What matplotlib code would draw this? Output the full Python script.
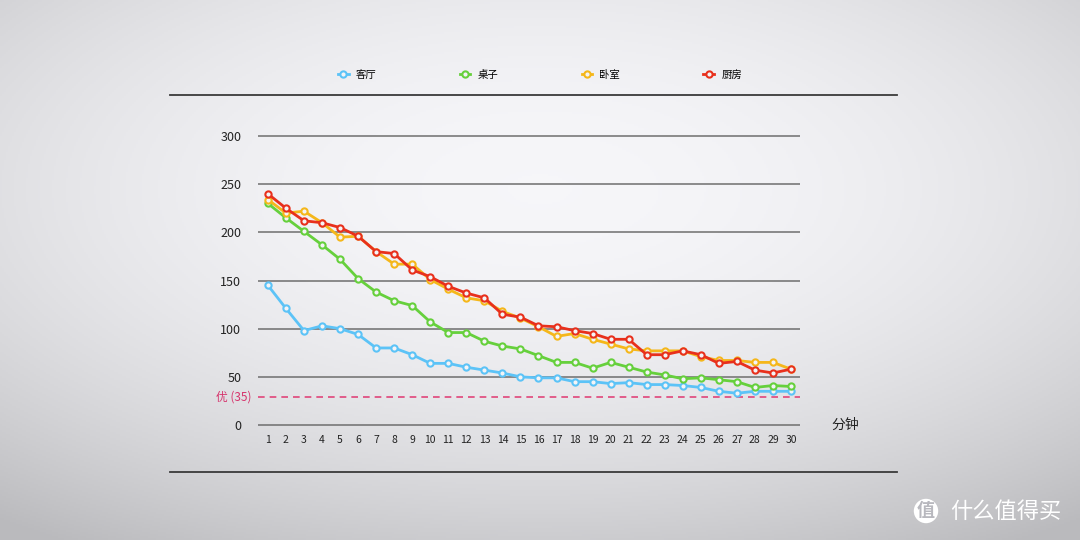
import numpy as np
import matplotlib
matplotlib.use('Agg')
from matplotlib import pyplot as plt
from matplotlib.lines import Line2D

plt.rcParams['font.family'] = ['Noto Sans CJK SC', 'DejaVu Sans']

minutes = list(range(1, 31))
series_names = ['客厅', '桌子', '卧室', '厨房']
living_room = [145, 121, 98, 103, 100, 94, 80, 80, 73, 64, 64, 60, 57, 54, 50, 49,
               49, 45, 45, 43, 44, 42, 42, 41, 39, 35, 33, 35, 35, 35]
desk = [230, 215, 201, 187, 172, 152, 138, 129, 124, 107, 96, 96, 87, 82, 79, 72,
        65, 65, 59, 65, 60, 55, 52, 48, 49, 47, 45, 39, 41, 40]
bedroom = [234, 220, 222, 210, 195, 196, 180, 167, 167, 151, 141, 132, 129, 118, 111, 102,
           92, 95, 89, 84, 79, 77, 77, 77, 71, 67, 67, 65, 65, 58]
kitchen = [240, 225, 212, 210, 205, 196, 180, 178, 161, 154, 144, 137, 132, 115, 112, 103,
           102, 98, 95, 89, 89, 73, 73, 77, 73, 64, 66, 57, 54, 58]
colors = ['#5cc3f7', '#66d03c', '#f5b71a', '#e8301c']
good_level = 29  # dashed reference line as drawn
good_label = '优 (35)'
y_ticks = [0, 50, 100, 150, 200, 250, 300]

fig = plt.figure(figsize=(10.8, 5.4), dpi=100)

# background gradient (light centre, greyer corners)
bg = fig.add_axes([0, 0, 1, 1])
yy, xx = np.mgrid[-1:1:270j, -1:1:540j]
r = np.clip(np.sqrt((xx * 0.85) ** 2 + ((yy + 0.3) * 0.9) ** 2), 0, 1.4)
level = 0.965 - 0.12 * r ** 2
img = np.dstack([level, level, level + 0.012])
bg.imshow(np.clip(img, 0, 1), aspect='auto', extent=[0, 1, 0, 1])
bg.set_axis_off()

ax = fig.add_axes([258 / 1080, 0.204, (800 - 258) / 1080, 0.553])
ax.set_facecolor('none')
ax.set_xlim(0.45, 30.5)
ax.set_ylim(-5, 305)
for s in ax.spines.values():
    s.set_visible(False)
for t in y_ticks:
    ax.axhline(t, color='#6e6e6e', lw=1.1, zorder=1)
ax.axhline(good_level, color='#e0457a', lw=1.2, ls=(0, (4, 3)), zorder=1)
ax.text(-0.012, good_level, good_label, transform=ax.get_yaxis_transform(),
        ha='right', va='center', fontsize=8.5, color='#d6336c')

for name, vals, c in zip(series_names, [living_room, desk, bedroom, kitchen], colors):
    ax.plot(minutes, vals, color=c, lw=2, marker='o', ms=4.5, mfc='#f4f4f6',
            mec=c, mew=1.5, label=name, zorder=3)

ax.set_xticks(minutes)
ax.set_yticks(y_ticks)
ax.tick_params(axis='both', length=0, colors='#222222')
ax.tick_params(axis='x', labelsize=7.5, pad=4)
ax.tick_params(axis='y', labelsize=9, pad=12)
fig.text(845 / 1080, 1 - 425 / 540, '分钟', ha='center', va='center', fontsize=10, color='#222222')

leg = fig.legend(loc='center', bbox_to_anchor=(540 / 1080, 1 - 75 / 540), ncol=4,
                 frameon=False, fontsize=7.5, handlelength=1.0, columnspacing=8.0,
                 handletextpad=0.7)

fig.add_artist(Line2D([170 / 1080, 897 / 1080], [1 - 95 / 540] * 2, color='#3a3a3a', lw=1.3))
fig.add_artist(Line2D([170 / 1080, 897 / 1080], [1 - 472 / 540] * 2, color='#3a3a3a', lw=1.3))

# watermark
fig.text(926 / 1080, 1 - 511 / 540, '值', ha='center', va='center', fontsize=13,
         color='#b8b8be', fontweight='bold',
         bbox=dict(boxstyle='circle,pad=0.15', fc='white', ec='none'))
fig.text(950 / 1080, 1 - 511 / 540, '什么值得买', ha='left', va='center', fontsize=16,
         color='white')

fig.savefig('out.png', dpi=100)
